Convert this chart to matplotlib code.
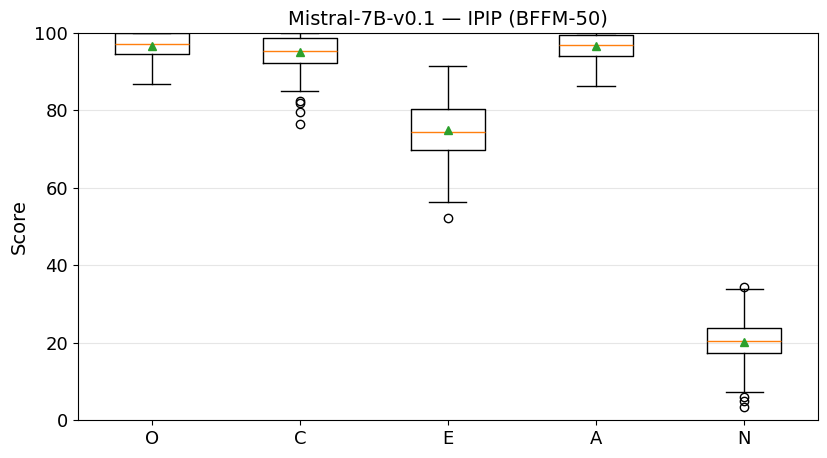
import matplotlib
matplotlib.use("Agg")
from matplotlib import pyplot as plt

traits = ['O', 'C', 'E', 'A', 'N']
q1 = [94.6, 92.2, 69.8, 94.1, 17.3]
med = [97.2, 95.3, 74.4, 96.9, 20.4]
q3 = [100.0, 98.7, 80.4, 99.5, 23.8]
mean = [96.7, 95.1, 74.9, 96.7, 20.2]
whislo = [86.8, 85.0, 56.3, 86.3, 7.2]
whishi = [100.0, 100.0, 91.5, 100.0, 33.9]
fliers = [[], [82.5, 81.8, 79.6, 76.4], [52.2], [], [34.3, 6.0, 5.0, 3.4]]

stats = []
for i, t in enumerate(traits):
    stats.append({'label': t, 'q1': q1[i], 'med': med[i], 'q3': q3[i], 'mean': mean[i],
                  'whislo': whislo[i], 'whishi': whishi[i], 'fliers': fliers[i]})

fig, ax = plt.subplots(figsize=(8.28, 4.58), dpi=100)
fig.subplots_adjust(left=0.094, right=0.988, top=0.928, bottom=0.083)
ax.bxp(stats, showmeans=True)
ax.set_ylim(0, 100)
ax.set_ylabel('Score', fontsize=14)
ax.set_title('Mistral-7B-v0.1 — IPIP (BFFM-50)', fontsize=14)
ax.tick_params(labelsize=13)
ax.yaxis.grid(True, color='#e6e6e6', linewidth=0.8)
ax.set_axisbelow(True)

plt.savefig('out.png', dpi=100)
